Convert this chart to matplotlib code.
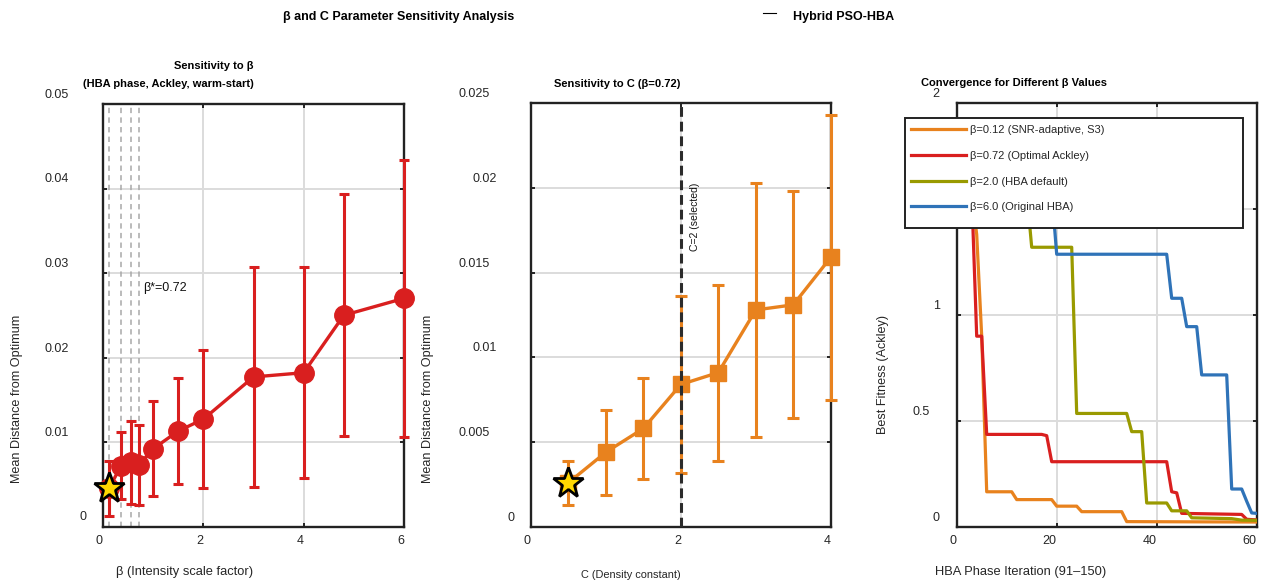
import numpy as np
import matplotlib
matplotlib.use("Agg")
import matplotlib.pyplot as plt
from matplotlib.lines import Line2D
from matplotlib.patches import Rectangle
from matplotlib.transforms import blended_transform_factory, ScaledTranslation

plt.rcParams['font.family'] = ['Liberation Sans', 'DejaVu Sans']

# ---------------- data ----------------
# Sensitivity to beta (HBA phase, Ackley, warm-start)
beta_vals = [0.12, 0.36, 0.56, 0.72, 1.0, 1.5, 2.0, 3.0, 4.0, 4.8, 6.0]
beta_mean = [0.0045, 0.0072, 0.0076, 0.0073, 0.0092, 0.0113, 0.0127, 0.0177, 0.0182, 0.0250, 0.0270]
beta_std = [0.0032, 0.0040, 0.0049, 0.0047, 0.0056, 0.0063, 0.0082, 0.0130, 0.0125, 0.0143, 0.0164]
beta_marked = [0.12, 0.36, 0.56, 0.72]

# Sensitivity to C (beta = 0.72)
c_vals = [0.5, 1.0, 1.5, 2.0, 2.5, 3.0, 3.5, 4.0]
c_mean = [0.0026, 0.0044, 0.0058, 0.0084, 0.0091, 0.0128, 0.0131, 0.0159]
c_std = [0.0013, 0.0025, 0.0030, 0.0052, 0.0052, 0.0075, 0.0067, 0.0084]
c_selected = 2

# Convergence curves (iteration, best fitness) for each beta
conv_labels = ['β=0.12 (SNR-adaptive, S3)', 'β=0.72 (Optimal Ackley)',
               'β=2.0 (HBA default)', 'β=6.0 (Original HBA)']
it_b012 = [0, 3, 4, 5, 6, 11, 12, 19, 20, 24, 25, 33, 34, 60]
fit_b012 = [1.58, 1.58, 1.38, 0.90, 0.165, 0.165, 0.128, 0.128, 0.097, 0.097, 0.071, 0.071, 0.024, 0.022]
it_b072 = [0, 3, 4, 5, 6, 17, 18, 19, 42, 43, 44, 45, 57, 58, 60]
fit_b072 = [1.58, 1.58, 0.90, 0.90, 0.436, 0.436, 0.43, 0.307, 0.307, 0.165, 0.16, 0.063, 0.058, 0.035, 0.032]
it_b2 = [0, 14, 15, 23, 24, 34, 35, 37, 38, 42, 43, 46, 47, 55, 57, 60]
fit_b2 = [1.58, 1.58, 1.32, 1.32, 0.535, 0.535, 0.449, 0.449, 0.112, 0.112, 0.075, 0.075, 0.042, 0.038, 0.031, 0.030]
it_b6 = [0, 19, 20, 42, 43, 45, 46, 48, 49, 54, 55, 57, 58, 59, 60]
fit_b6 = [1.58, 1.58, 1.287, 1.287, 1.079, 1.079, 0.945, 0.945, 0.717, 0.717, 0.178, 0.178, 0.12, 0.065, 0.063]

# ---------------- style ----------------
W, H, DPI = 1262, 584, 100
AX = '#222222'
TXT = '#262626'
GRID = '#DCDCDC'
RED = '#D91F1F'
ORANGE = '#E8821E'
OLIVE = '#999A00'
BLUE = '#2F73B8'
STAR = '#FFD700'

def fx(px):
    return px / W

def fy(py):
    return 1 - py / H

fig = plt.figure(figsize=(W / DPI, H / DPI), dpi=DPI)

ax1 = fig.add_axes([fx(103), fy(526.5), 301 / W, 422.5 / H])
ax2 = fig.add_axes([fx(531), fy(526.7), 299.7 / W, 423.4 / H])
ax3 = fig.add_axes([fx(956.7), fy(526.7), 300 / W, 423.4 / H])

ylabel_texts = []

def style(ax, xlim, ylim, xt, xl, yt, yl):
    ax.set_xlim(xlim)
    ax.set_ylim(ylim)
    ax.set_xticks(xt)
    ax.set_yticks(yt)
    ax.tick_params(direction='in', length=3.2, width=1.4, color=AX,
                   top=True, right=True, labelbottom=False, labelleft=False)
    for s in ax.spines.values():
        s.set_linewidth(1.7)
        s.set_color(AX)
    ax.grid(True, color=GRID, lw=1.4)
    ax.set_axisbelow(True)
    xtr = blended_transform_factory(ax.transData, ax.transAxes) + \
        ScaledTranslation(0, -14.5 / DPI, fig.dpi_scale_trans)
    for v, s in zip(xt, xl):
        ax.text(v, 0, s, transform=xtr, ha='right', va='center',
                fontsize=9, color=TXT, clip_on=False)
    ytr = blended_transform_factory(ax.transAxes, ax.transData)
    for v, s in zip(yt, yl):
        t = ax.text(0, v, s, transform=ytr, ha='right', va='center',
                    fontsize=9, color=TXT, clip_on=False, zorder=3)
        ylabel_texts.append((t, ytr))

def unclip(container):
    for a in container.get_children():
        a.set_clip_on(False)

# ---------------- panel 1: beta sensitivity ----------------
for b in beta_marked:
    ax1.axvline(b, color='#A8A8A8', lw=1.1, ls=(0, (3.5, 2.8)), zorder=1.6)
eb1 = ax1.errorbar(beta_vals, beta_mean, yerr=beta_std, color=RED, lw=2.4,
                   elinewidth=2.2, capsize=3.6, capthick=2.2, marker='o', ms=14,
                   mfc=RED, mec=RED, zorder=3)
unclip(eb1)
i1 = int(np.argmin(beta_mean))
ax1.plot(beta_vals[i1], beta_mean[i1], marker='*', ms=23, mfc=STAR,
         mec='black', mew=2, zorder=6, clip_on=False)
ax1.text(0.79, 0.0282, 'β*=0.72', fontsize=9, color='#111111',
         ha='left', va='center')
style(ax1, (0, 6), (0, 0.05), [0, 2, 4, 6], ['0', '2', '4', '6'],
      [0, 0.01, 0.02, 0.03, 0.04, 0.05],
      ['0', '0.01', '0.02', '0.03', '0.04', '0.05'])

# ---------------- panel 2: C sensitivity ----------------
eb2 = ax2.errorbar(c_vals, c_mean, yerr=c_std, color=ORANGE, lw=2.4,
                   elinewidth=2.2, capsize=4.2, capthick=2.2, marker='s', ms=12,
                   mfc=ORANGE, mec=ORANGE, zorder=3)
unclip(eb2)
ax2.axvline(c_selected, color='#2B2B2B', lw=2.2, ls=(0, (3.2, 1.6)), zorder=4)
i2 = int(np.argmin(c_mean))
ax2.plot(c_vals[i2], c_mean[i2], marker='*', ms=23, mfc=STAR,
         mec='black', mew=2, zorder=6)
ax2.text(c_selected + 0.19, 0.0203, f'C={c_selected} (selected)', rotation=90,
         fontsize=7.5, color='#111111', ha='center', va='top')
style(ax2, (0, 4), (0, 0.025), [0, 2, 4], ['0', '2', '4'],
      [0, 0.005, 0.01, 0.015, 0.02, 0.025],
      ['0', '0.005', '0.01', '0.015', '0.02', '0.025'])

# ---------------- panel 3: convergence ----------------
series = [(it_b012, fit_b012, ORANGE), (it_b072, fit_b072, RED),
          (it_b2, fit_b2, OLIVE), (it_b6, fit_b6, BLUE)]
handles = []
for (it, fit, col), lab in zip(series, conv_labels):
    h, = ax3.plot(it, fit, color=col, lw=2.3, label=lab, zorder=3)
    handles.append(h)
style(ax3, (0, 60), (0, 2), [0, 20, 40, 60], ['0', '20', '40', '60'],
      [0, 0.5, 1, 1.5, 2], ['0', '0.5', '1', '1.5', '2'])

def a3x(px):
    return (px - 956.7) / 300

def a3y(py):
    return (526.7 - py) / 423.4

ax3.add_patch(Rectangle((a3x(905), a3y(228)), (1243 - 905) / 300, (228 - 118) / 423.4,
                        transform=ax3.transAxes, fc='white', ec=AX, lw=1.4,
                        clip_on=False, zorder=4.5))
leg = ax3.legend(handles, conv_labels, loc='upper left',
                 bbox_to_anchor=(a3x(911), a3y(125)), frameon=False,
                 fontsize=8, handlelength=4.95, handletextpad=0.36,
                 labelspacing=1.42, borderpad=0, borderaxespad=0)
leg.set_zorder(5)
for t in leg.get_texts():
    t.set_color(TXT)

# ---------------- titles and axis labels ----------------
fig.text(fx(398.5), fy(17), 'β and C Parameter Sensitivity Analysis',
         fontsize=9, fontweight='bold', ha='center', va='center')
fig.add_artist(Line2D([fx(763), fx(776)], [fy(13.3), fy(13.3)],
                      transform=fig.transFigure, color='black', lw=0.8))
fig.text(fx(793), fy(17), 'Hybrid PSO-HBA', fontsize=9, fontweight='bold',
         ha='left', va='center')

fig.text(fx(253.5), fy(66), 'Sensitivity to β', fontsize=8,
         fontweight='bold', ha='right', va='center')
fig.text(fx(253.5), fy(84), '(HBA phase, Ackley, warm-start)', fontsize=8,
         fontweight='bold', ha='right', va='center')
fig.text(fx(680.5), fy(84), 'Sensitivity to C (β=0.72)', fontsize=8,
         fontweight='bold', ha='right', va='center')
fig.text(fx(1106.7), fy(83), 'Convergence for Different β Values', fontsize=8,
         fontweight='bold', ha='right', va='center')

fig.text(fx(253.5), fy(571.7), 'β (Intensity scale factor)', fontsize=9.3,
         color=TXT, ha='right', va='center')
fig.text(fx(680.5), fy(575), 'C (Density constant)', fontsize=7.9,
         color=TXT, ha='right', va='center')
fig.text(fx(1106.7), fy(571.7), 'HBA Phase Iteration (91–150)', fontsize=9.3,
         color=TXT, ha='right', va='center')

fig.text(fx(17), fy(315.2), 'Mean Distance from Optimum', fontsize=9.1,
         color=TXT, rotation=90, ha='center', va='top')
fig.text(fx(428), fy(315.2), 'Mean Distance from Optimum', fontsize=9.1,
         color=TXT, rotation=90, ha='center', va='top')
fig.text(fx(883), fy(315.2), 'Best Fitness (Ackley)', fontsize=9.1,
         color=TXT, rotation=90, ha='center', va='top')

# y tick labels: shift each left by its own width plus a gap, and raise slightly
fig.canvas.draw()
renderer = fig.canvas.get_renderer()
for t, base in ylabel_texts:
    w = t.get_window_extent(renderer).width
    t.set_transform(base + ScaledTranslation(-(10 + w) / DPI, 9 / DPI,
                                             fig.dpi_scale_trans))

fig.savefig('out.png', dpi=DPI)
